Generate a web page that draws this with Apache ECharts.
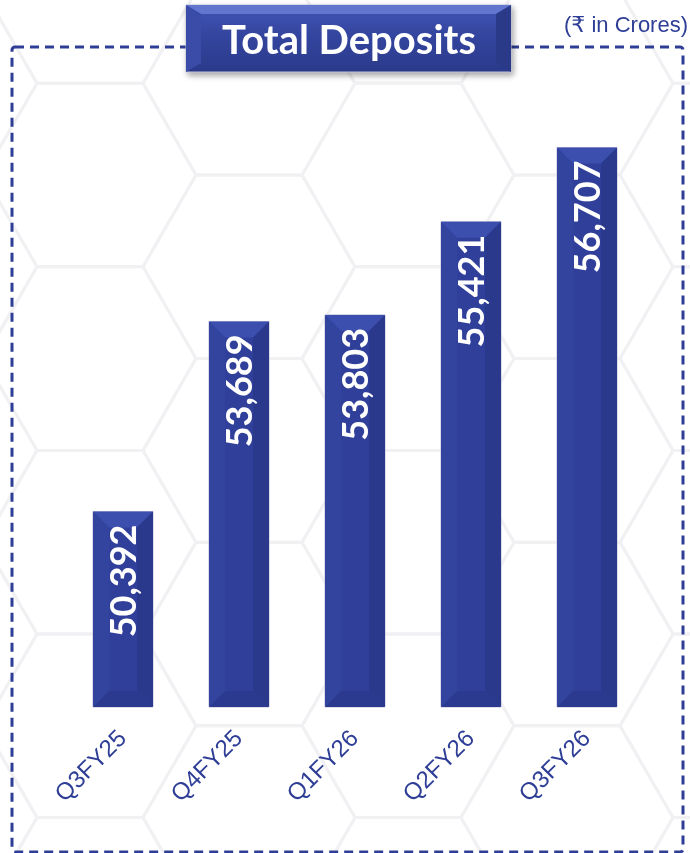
<!DOCTYPE html>
<html>
<head>
<meta charset="utf-8">
<title>Total Deposits</title>
<script src="https://cdn.jsdelivr.net/npm/echarts@6/dist/echarts.min.js"></script>
<style>
  html, body { margin: 0; padding: 0; background: #fff; }
  #chart { width: 690px; height: 853px; }
</style>
</head>
<body>
<div id="chart"></div>
<script>
const quarters = ['Q3FY25', 'Q4FY25', 'Q1FY26', 'Q2FY26', 'Q3FY26']
const deposits = [50392, 53689, 53803, 55421, 56707]
const titleText = 'Total Deposits'
const unitText = '(₹ in Crores)'

const BLUE = '#2E3E96'
const chart = echarts.init(document.getElementById('chart'))

// faint hexagon pattern in the background
const hexes = []
const s = 106
const h = s * Math.sqrt(3) / 2
for (let col = -1; col < 6; col++) {
  for (let row = -1; row < 6; row++) {
    const cx = 90 + col * 1.5 * s
    const cy = 175 + row * 2 * h + (col % 2 ? h : 0)
    const pts = []
    for (let k = 0; k < 6; k++) {
      const a = Math.PI / 3 * k
      pts.push([cx + s * Math.cos(a), cy + s * Math.sin(a)])
    }
    hexes.push({
      type: 'polygon', silent: true, z: -10,
      shape: { points: pts },
      style: { fill: null, stroke: '#f1f1f4', lineWidth: 3 }
    })
  }
}

const renderBar = (params, api) => {
  const idx = api.value(0)
  const val = api.value(1)
  const top = api.coord([idx, val])
  const base = api.coord([idx, 47000])
  const w = 60
  const x0 = top[0] - w / 2
  const x1 = top[0] + w / 2
  const y0 = top[1]
  const y1 = base[1]
  const b = 16
  const poly = (points, fill) => ({ type: 'polygon', shape: { points }, style: { fill } })
  return {
    type: 'group',
    children: [
      {
        type: 'rect',
        shape: { x: x0, y: y0, width: w, height: y1 - y0 },
        style: { fill: '#30409a', stroke: '#b9bdd6', lineWidth: 1 }
      },
      poly([[x0, y0], [x1, y0], [x1 - b, y0 + b], [x0 + b, y0 + b]], '#3d4fae'),
      poly([[x0, y0], [x0 + b, y0 + b], [x0 + b, y1 - b], [x0, y1]], '#33449f'),
      poly([[x1, y0], [x1, y1], [x1 - b, y1 - b], [x1 - b, y0 + b]], '#2a398b'),
      poly([[x0, y1], [x0 + b, y1 - b], [x1 - b, y1 - b], [x1, y1]], '#2b3a8e'),
      {
        type: 'text',
        x: top[0] + 1,
        y: y0 + 13,
        rotation: Math.PI / 2,
        style: {
          text: val.toLocaleString('en-US'),
          fill: '#fff',
          font: 'bold 36px Lato, "Open Sans", sans-serif',
          align: 'right',
          verticalAlign: 'middle'
        }
      }
    ]
  }
}

const option = {
  animation: false,
  grid: { left: 65, right: 45, top: 73, bottom: 146 },
  xAxis: {
    type: 'category',
    data: quarters,
    axisLine: { show: false },
    axisTick: { show: false },
    axisLabel: {
      rotate: 45,
      margin: 28,
      color: BLUE,
      fontSize: 24,
      fontFamily: '"Liberation Sans", Arial, sans-serif'
    }
  },
  yAxis: {
    type: 'value',
    min: 47000,
    max: 58000,
    show: false
  },
  series: [{
    type: 'custom',
    renderItem: renderBar,
    data: deposits.map((v, i) => [i, v]),
    encode: { x: 0, y: 1 }
  }],
  graphic: [
    ...hexes,
    {
      type: 'rect', silent: true, z: 1,
      shape: { x: 12, y: 47, width: 671, height: 805, r: 3 },
      style: { fill: null, stroke: BLUE, lineWidth: 3, lineDash: [9, 6] }
    },
    {
      type: 'rect', z: 5,
      shape: { x: 186, y: 5, width: 325, height: 67 },
      style: {
        fill: {
          type: 'linear', x: 0, y: 0, x2: 0, y2: 1,
          colorStops: [{ offset: 0, color: '#4356b6' }, { offset: 0.45, color: '#34459f' }, { offset: 1, color: '#2b3a8a' }]
        },
        stroke: '#c3c7de', lineWidth: 1,
        shadowBlur: 6, shadowOffsetX: 2, shadowOffsetY: 3, shadowColor: 'rgba(0,0,0,0.35)'
      }
    },
    {
      type: 'polygon', z: 6,
      shape: { points: [[186, 5], [511, 5], [496, 14], [201, 14]] },
      style: { fill: '#6276d0' }
    },
    {
      type: 'polygon', z: 6,
      shape: { points: [[186, 5], [201, 14], [201, 63], [186, 72]] },
      style: { fill: '#3a4ca8' }
    },
    {
      type: 'polygon', z: 6,
      shape: { points: [[511, 5], [496, 14], [496, 63], [511, 72]] },
      style: { fill: '#2a3988' }
    },
    {
      type: 'text', z: 7,
      x: 349, y: 41,
      style: {
        text: titleText,
        fill: '#fff',
        font: 'bold 40px Lato, "Open Sans", sans-serif',
        align: 'center',
        verticalAlign: 'middle'
      }
    },
    {
      type: 'text', z: 7,
      x: 688, y: 26,
      style: {
        text: unitText,
        fill: BLUE,
        font: '22px "Liberation Sans", "DejaVu Sans", sans-serif',
        align: 'right',
        verticalAlign: 'middle'
      }
    }
  ]
}

chart.setOption(option)
</script>
</body>
</html>
